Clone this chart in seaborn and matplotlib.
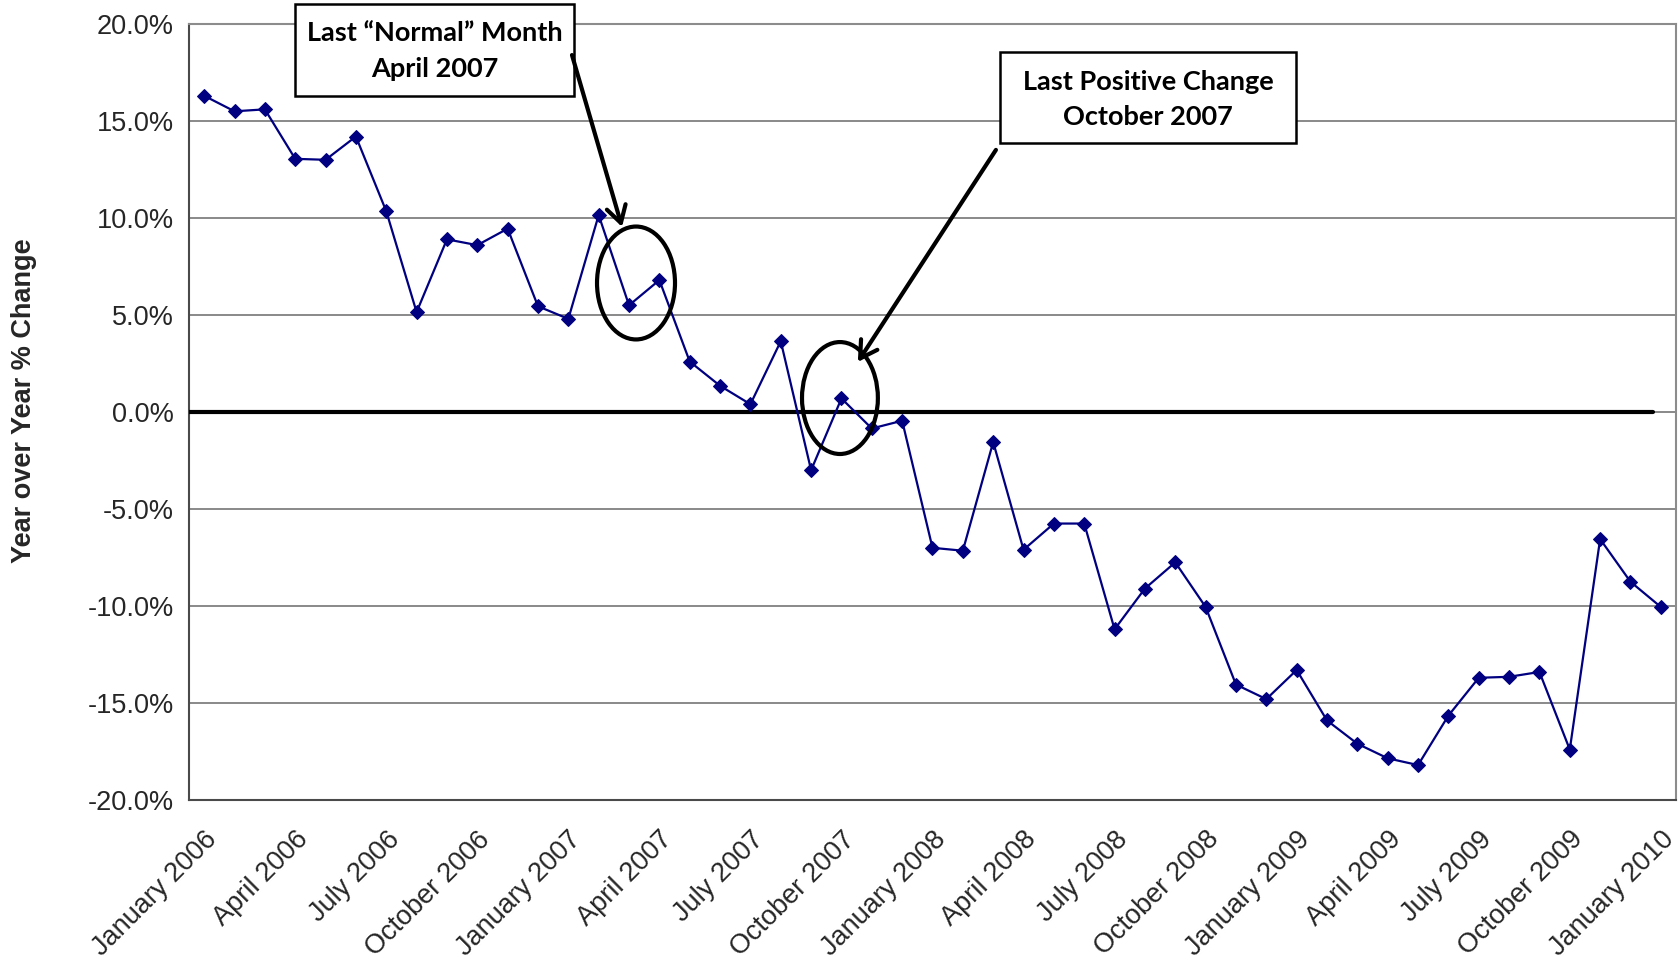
import numpy as np
import pandas as pd
import seaborn as sns
import matplotlib.pyplot as plt
from matplotlib.patches import Ellipse, Rectangle, FancyArrowPatch
from matplotlib.ticker import PercentFormatter, FixedLocator

MONTHS = ["January", "February", "March", "April", "May", "June", "July",
          "August", "September", "October", "November", "December"]
YEARS = [2006, 2007, 2008, 2009, 2010]
PERIODS = [f"{m} {y}" for y in YEARS for m in MONTHS][:49]

YOY_CHANGE = [
    16.3, 15.5, 15.6, 13.05, 13.0, 14.2, 10.35, 5.15, 8.9, 8.6, 9.45, 5.45,
    4.8, 10.15, 5.5, 6.8, 2.6, 1.35, 0.4, 3.65, -3.0, 0.7, -0.85, -0.45,
    -7.0, -7.15, -1.55, -7.1, -5.75, -5.75, -11.2, -9.1, -7.75, -10.05, -14.05, -14.8,
    -13.3, -15.9, -17.1, -17.85, -18.2, -15.65, -13.7, -13.65, -13.4, -17.4, -6.55, -8.75,
    -10.05,
]
LABEL_EVERY = 3

df = pd.DataFrame({"idx": np.arange(len(PERIODS)), "period": PERIODS, "pct": YOY_CHANGE})

sns.set_style("white")
plt.rcParams["font.family"] = ["Liberation Sans", "DejaVu Sans"]
plt.rcParams["axes.unicode_minus"] = False

W, H = 1679, 961
fig = plt.figure(figsize=(W / 100, H / 100), dpi=100)
ax = fig.add_axes([189 / W, 1 - 800 / H, (1676 - 189) / W, (800 - 24) / H])

sns.lineplot(data=df, x="idx", y="pct", ax=ax, color="#000080", linewidth=1.6,
             marker="D", markersize=7.5, markeredgecolor="#000080",
             markerfacecolor="#000080", zorder=4)

n = len(PERIODS)
ax.set_xlim(-0.5, n - 0.5)
ax.set_ylim(-20, 20)
ax.set_yticks(np.arange(-20, 20.1, 5))
ax.yaxis.set_major_formatter(PercentFormatter(decimals=1))

ax.set_xticks(df["idx"][::LABEL_EVERY])
ax.set_xticklabels(df["period"][::LABEL_EVERY], rotation=45, ha="right",
                   va="top", rotation_mode="anchor")
ax.xaxis.set_minor_locator(FixedLocator(np.arange(-0.5, n, 1)))
ax.tick_params(axis="x", which="major", length=0, pad=19, labelsize=19.5)
ax.tick_params(axis="x", which="minor", length=8, width=1.3, color="#444444", direction="out")
ax.tick_params(axis="y", which="major", length=8, width=1.3, color="#444444",
               direction="out", labelsize=19.5, pad=3)

ax.yaxis.grid(True, color="#6a6a6a", linewidth=1.1)
ax.xaxis.grid(False)
ax.set_xlabel("")
ax.set_ylabel("")
for side in ["left", "bottom"]:
    ax.spines[side].set_color("#4a4a4a")
    ax.spines[side].set_linewidth(1.5)
for side in ["top", "right"]:
    ax.spines[side].set_color("#8c8c8c")
    ax.spines[side].set_linewidth(1.5)

fig.text(24 / W, 1 - 401 / H, "Year over Year % Change", rotation=90,
         ha="center", va="center", fontsize=19.5, fontweight="bold")

# zero reference line
ax.plot([-0.5, 47.74], [0, 0], color="black", linewidth=3.0, zorder=3)

# callouts
box_font = dict(family=["Lato", "DejaVu Sans"], fontweight="bold", fontsize=19.5,
                ha="center", va="center", color="black")
ax.add_patch(Rectangle((2.99, 16.29), 9.2, 4.74, fill=True, facecolor="white",
                       edgecolor="black", linewidth=1.8, clip_on=False, zorder=6))
ax.text(7.59, 19.54, "Last \u201cNormal\u201d Month", zorder=7, **box_font)
ax.text(7.59, 17.68, "April 2007", zorder=7, **box_font)

ax.add_patch(Rectangle((26.22, 13.87), 9.75, 4.69, fill=True, facecolor="white",
                       edgecolor="black", linewidth=1.8, clip_on=False, zorder=6))
ax.text(31.1, 17.01, "Last Positive Change", zorder=7, **box_font)
ax.text(31.1, 15.2, "October 2007", zorder=7, **box_font)

for (x0, y0), (x1, y1) in [((12.12, 18.4), (13.77, 9.54)), ((26.09, 13.51), (21.54, 2.58))]:
    ax.add_patch(FancyArrowPatch((x0, y0), (x1, y1),
                                 arrowstyle="->,head_length=0.6,head_width=0.35",
                                 mutation_scale=20, linewidth=3, color="black",
                                 shrinkA=0, shrinkB=0, zorder=6, clip_on=False))

for cx, cy, w, h in [(14.23, 6.65, 2.57, 5.82), (20.95, 0.72, 2.5, 5.77)]:
    ax.add_patch(Ellipse((cx, cy), w, h, fill=False, edgecolor="black",
                         linewidth=3, zorder=6))

fig.savefig("out.png", dpi=100)
